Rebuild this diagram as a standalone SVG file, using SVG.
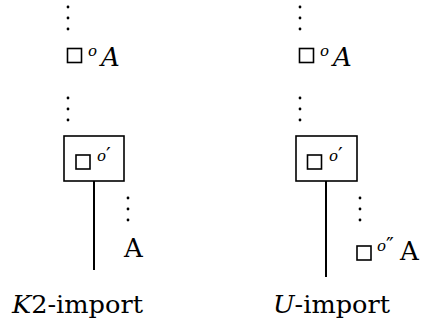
<svg xmlns="http://www.w3.org/2000/svg" width="426" height="327" viewBox="0 0 426 327">
<style>
  text { font-family: 'DejaVu Serif', 'Liberation Serif', serif; fill: #000; }
  .it { font-style: italic; }
  .big { font-size: 26px; }
  .sup { font-size: 15px; font-style: italic; }
  .pr { font-size: 21px; font-style: normal; }
  .lbl { font-size: 25px; }
  .sq { fill: none; stroke: #000; stroke-width: 1.6; }
  .box { fill: #fff; stroke: #000; stroke-width: 1.6; }
  .line { stroke: #000; stroke-width: 2; fill: none; }
  .dots { stroke: #000; stroke-width: 2.8; stroke-linecap: round; stroke-dasharray: 0 11; fill: none; }
</style>
<rect width="426" height="327" fill="#fff"/>
<g id="connectors">
  <path class="dots" d="M68 7 V30"/>
  <path class="dots" d="M68 98 V121"/>
  <path class="dots" d="M300 7 V30"/>
  <path class="dots" d="M300 98 V121"/>
  <path class="dots" d="M128 198 V222"/>
  <path class="dots" d="M360 198 V222"/>
  <path class="line" d="M94 181 V270"/>
  <path class="line" d="M326 181 V277"/>
</g>
<g id="k2-top">
  <rect class="sq" x="67.5" y="48.5" width="14" height="14"/>
  <text class="sup" x="88" y="55.5">o</text>
  <text class="it big" x="101" y="66">A</text>
</g>
<g id="k2-box">
  <rect class="box" x="64" y="136" width="60" height="45"/>
  <rect class="sq" x="76" y="155" width="14" height="14"/>
  <text class="sup" x="97" y="161">o<tspan class="pr" dy="1">′</tspan></text>
</g>
<g id="k2-A">
  <text class="big" x="124" y="257">A</text>
</g>
<g id="k2-label">
  <text class="lbl" x="12" y="313" textLength="131" lengthAdjust="spacingAndGlyphs"><tspan class="it">K</tspan>2-import</text>
</g>
<g id="u-top">
  <rect class="sq" x="299.5" y="48.5" width="14" height="14"/>
  <text class="sup" x="320" y="55.5">o</text>
  <text class="it big" x="333" y="66">A</text>
</g>
<g id="u-box">
  <rect class="box" x="296" y="136" width="61" height="45"/>
  <rect class="sq" x="307.5" y="155" width="14" height="14"/>
  <text class="sup" x="329" y="161">o<tspan class="pr" dy="1">′</tspan></text>
</g>
<g id="u-bottom">
  <rect class="sq" x="357" y="246" width="14" height="14"/>
  <text class="sup" x="377" y="251">o<tspan class="pr" dy="1">″</tspan></text>
  <text class="big" x="400" y="260">A</text>
</g>
<g id="u-label">
  <text class="lbl" x="273" y="313" textLength="117" lengthAdjust="spacingAndGlyphs"><tspan class="it">U</tspan>-import</text>
</g>
</svg>
